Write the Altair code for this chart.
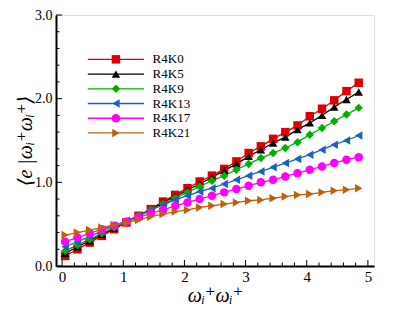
import altair as alt
import pandas as pd

x_vals = [0.05, 0.25, 0.45, 0.65, 0.85, 1.05, 1.25, 1.45, 1.65, 1.85, 2.05, 2.25, 2.45,
          2.65, 2.85, 3.05, 3.25, 3.45, 3.65, 3.85, 4.05, 4.25, 4.45, 4.65, 4.85]

series_names = ["R4K0", "R4K5", "R4K9", "R4K13", "R4K17", "R4K21"]

r4k0 = [0.12, 0.20, 0.28, 0.36, 0.44, 0.52, 0.60, 0.68, 0.77, 0.85, 0.93, 1.01, 1.08,
        1.16, 1.25, 1.35, 1.43, 1.52, 1.60, 1.68, 1.79, 1.88, 1.98, 2.09, 2.19]
r4k5 = [0.15, 0.23, 0.30, 0.38, 0.45, 0.53, 0.60, 0.68, 0.76, 0.83, 0.91, 0.98, 1.06,
        1.14, 1.22, 1.31, 1.39, 1.47, 1.54, 1.63, 1.71, 1.80, 1.90, 1.99, 2.08]
r4k9 = [0.18, 0.25, 0.32, 0.39, 0.46, 0.53, 0.60, 0.67, 0.74, 0.81, 0.88, 0.95, 1.02,
        1.08, 1.15, 1.22, 1.29, 1.35, 1.41, 1.48, 1.57, 1.65, 1.73, 1.81, 1.89]
r4k13 = [0.23, 0.29, 0.35, 0.42, 0.48, 0.54, 0.60, 0.67, 0.73, 0.79, 0.84, 0.89, 0.93,
         0.98, 1.03, 1.08, 1.13, 1.18, 1.23, 1.28, 1.33, 1.39, 1.45, 1.50, 1.56]
r4k17 = [0.29, 0.34, 0.39, 0.44, 0.48, 0.53, 0.58, 0.63, 0.67, 0.72, 0.76, 0.80, 0.84,
         0.88, 0.92, 0.96, 1.00, 1.03, 1.07, 1.11, 1.15, 1.19, 1.23, 1.27, 1.30]
r4k21 = [0.37, 0.40, 0.43, 0.46, 0.49, 0.52, 0.55, 0.59, 0.62, 0.65, 0.67, 0.70, 0.72,
         0.74, 0.76, 0.78, 0.79, 0.81, 0.83, 0.85, 0.86, 0.88, 0.90, 0.91, 0.93]

series_values = [r4k0, r4k5, r4k9, r4k13, r4k17, r4k21]
colors = ["#dd0000", "#000000", "#00b000", "#1a62c0", "#ff00ff", "#c0600a"]
shapes = ["square", "triangle-up", "diamond", "triangle-left", "circle", "triangle-right"]

x_major = [0, 1, 2, 3, 4, 5]
x_minor = [0.2, 0.4, 0.6, 0.8, 1.2, 1.4, 1.6, 1.8, 2.2, 2.4, 2.6, 2.8,
           3.2, 3.4, 3.6, 3.8, 4.2, 4.4, 4.6, 4.8]
y_major = [0, 1, 2, 3]
y_minor = [0.2, 0.4, 0.6, 0.8, 1.2, 1.4, 1.6, 1.8, 2.2, 2.4, 2.6, 2.8]

FONT = "Liberation Serif, Times New Roman, DejaVu Serif, serif"
X_DOMAIN = [-0.1, 5.1]
Y_DOMAIN = [0, 3]
W, H = 318, 251
MARK_SIZE = 72

rows = []
for name, vals in zip(series_names, series_values):
    for xv, yv in zip(x_vals, vals):
        rows.append({"series": name, "x": xv, "y": yv})
df = pd.DataFrame(rows)

xs = alt.Scale(domain=X_DOMAIN, nice=False, zero=False)
ys = alt.Scale(domain=Y_DOMAIN, nice=False, zero=False)
color = alt.Color("series:N", scale=alt.Scale(domain=series_names, range=colors), legend=None)
shape = alt.Shape("series:N", scale=alt.Scale(domain=series_names, range=shapes), legend=None)

x_axis = alt.Axis(values=x_major, format="d", ticks=False, grid=False, labelFlush=False,
                  domainColor="black", domainWidth=2, labelFont=FONT, labelFontSize=15,
                  labelColor="black", labelPadding=3,
                  title="ωᵢ⁺ωᵢ⁺", titleFont=FONT, titleFontSize=20, titleFontStyle="italic",
                  titleFontWeight="normal", titleColor="black", titleY=35,
                  titleBaseline="alphabetic")
y_axis = alt.Axis(values=y_major, format=".1f", ticks=False, grid=False, labelFlush=False,
                  domainColor="black", domainWidth=2, labelFont=FONT, labelFontSize=14,
                  labelColor="black", labelPadding=4,
                  title="⟨e |ωᵢ⁺ωᵢ⁺⟩", titleFont=FONT, titleFontSize=20,
                  titleFontStyle="italic", titleFontWeight="normal", titleColor="black",
                  titleX=-31, titleBaseline="middle")

base = alt.Chart(df)
lines = base.mark_line(strokeWidth=1.3).encode(
    x=alt.X("x:Q", scale=xs, axis=x_axis),
    y=alt.Y("y:Q", scale=ys, axis=y_axis),
    color=color,
)
points = base.mark_point(filled=True, size=MARK_SIZE, opacity=1).encode(
    x=alt.X("x:Q", scale=xs),
    y=alt.Y("y:Q", scale=ys),
    color=color,
    shape=shape,
)

# inward ticks (lengths converted from pixels to data units)
px_y = (Y_DOMAIN[1] - Y_DOMAIN[0]) / H
px_x = (X_DOMAIN[1] - X_DOMAIN[0]) / W
xt = pd.DataFrame(
    [{"x": v, "y": Y_DOMAIN[0], "y2": Y_DOMAIN[0] + 6 * px_y} for v in x_major]
    + [{"x": v, "y": Y_DOMAIN[0], "y2": Y_DOMAIN[0] + 3.5 * px_y} for v in x_minor]
)
yt = pd.DataFrame(
    [{"y": v, "x": X_DOMAIN[0], "x2": X_DOMAIN[0] + 6 * px_x} for v in y_major]
    + [{"y": v, "x": X_DOMAIN[0], "x2": X_DOMAIN[0] + 3.5 * px_x} for v in y_minor]
)
xticks = alt.Chart(xt).mark_rule(color="black", strokeWidth=1).encode(
    x=alt.X("x:Q", scale=xs), y=alt.Y("y:Q", scale=ys), y2="y2:Q")
yticks = alt.Chart(yt).mark_rule(color="black", strokeWidth=1).encode(
    y=alt.Y("y:Q", scale=ys), x=alt.X("x:Q", scale=xs), x2="x2:Q")

# legend drawn inside the plot
leg_rows = []
for i, name in enumerate(series_names):
    ly = 2.47 - 0.176 * i
    leg_rows.append({"series": name, "x1": 0.42, "x2": 1.34, "xm": 0.88, "xt": 1.48, "ly": ly})
leg = pd.DataFrame(leg_rows)
leg_base = alt.Chart(leg)
leg_lines = leg_base.mark_rule(strokeWidth=1.3).encode(
    x=alt.X("x1:Q", scale=xs), x2="x2:Q", y=alt.Y("ly:Q", scale=ys), color=color)
leg_pts = leg_base.mark_point(filled=True, size=MARK_SIZE, opacity=1).encode(
    x=alt.X("xm:Q", scale=xs), y=alt.Y("ly:Q", scale=ys), color=color, shape=shape)
leg_text = leg_base.mark_text(align="left", baseline="middle", font=FONT, fontSize=13,
                              color="black").encode(
    x=alt.X("xt:Q", scale=xs), y=alt.Y("ly:Q", scale=ys), text="series:N")

chart = alt.layer(lines, points, xticks, yticks, leg_lines, leg_pts, leg_text).properties(
    width=W, height=H,
    autosize=alt.AutoSizeParams(type="none"),
    padding={"left": 48, "top": 7, "right": 17, "bottom": 44},
).configure_view(stroke="black", strokeWidth=1.5).configure(background="white")

chart.save("out.html", embed_options={"renderer": "svg", "actions": False})
